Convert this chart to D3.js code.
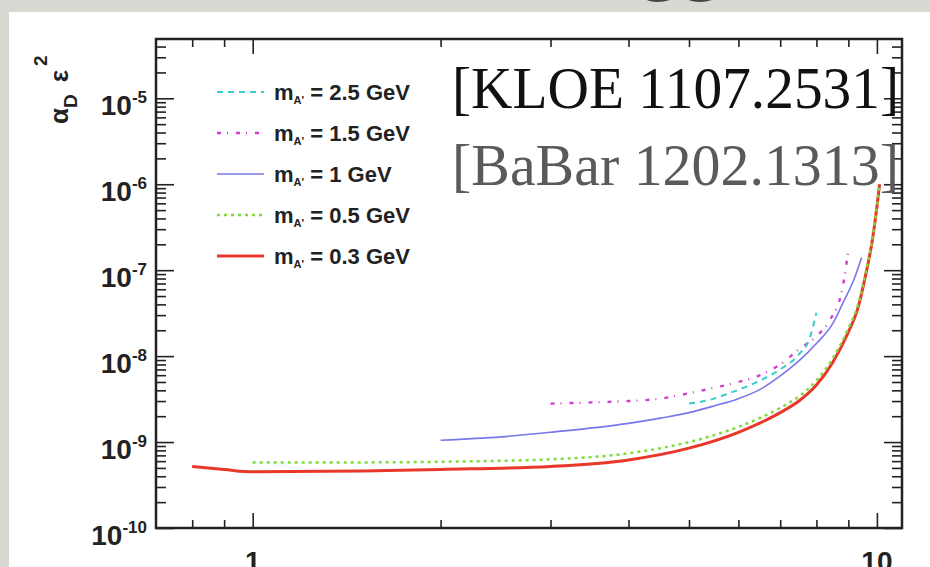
<!DOCTYPE html>
<html>
<head>
<meta charset="utf-8">
<script src="https://cdn.jsdelivr.net/npm/d3@7"></script>
<style>
  body { margin: 0; background: #d9d8d2; }
  svg { display: block; }
</style>
</head>
<body>
<svg id="chart"></svg>
<script>
// curve points: [mass, alpha_D * eps^2]
var curve25 = [[5.0, 2.8e-9], [5.4, 3.1e-9], [5.8, 3.7e-9], [6.5, 5.2e-9], [7.0, 7.0e-9],
  [7.5, 1.05e-8], [7.8, 1.6e-8], [8.0, 3.2e-8]];
var curve15 = [[3.0, 2.8e-9], [3.5, 2.9e-9], [4.0, 3.0e-9], [4.5, 3.2e-9], [5.0, 3.7e-9],
  [5.5, 4.3e-9], [6.0, 5.0e-9], [6.5, 6.0e-9], [7.0, 8.0e-9], [7.5, 1.2e-8], [8.0, 1.7e-8],
  [8.4, 2.6e-8], [8.8, 6.0e-8], [9.0, 1.7e-7]];
var curve1 = [[2.0, 1.05e-9], [2.5, 1.15e-9], [3.0, 1.3e-9], [4.0, 1.65e-9], [4.5, 1.9e-9],
  [5.0, 2.2e-9], [5.5, 2.65e-9], [6.0, 3.2e-9], [6.5, 4.1e-9], [7.0, 5.9e-9], [7.5, 8.8e-9],
  [8.0, 1.4e-8], [8.5, 2.4e-8], [8.8, 4.0e-8], [9.2, 8e-8], [9.45, 1.4e-7]];
var curve05 = [[1.0, 5.8e-10], [1.5, 5.8e-10], [2.0, 5.9e-10], [3.0, 6.3e-10], [4.0, 7.4e-10],
  [5.0, 1.0e-9], [6.0, 1.5e-9], [7.0, 2.5e-9], [7.5, 3.4e-9], [8.0, 5.2e-9], [8.5, 9.5e-9],
  [9.0, 2.1e-8], [9.3, 3.7e-8], [9.6, 9.5e-8], [9.85, 2.5e-7], [10.1, 1.0e-6]];
var curve03 = [[0.8, 5.2e-10], [0.9, 4.8e-10], [1.0, 4.5e-10], [1.5, 4.6e-10], [2.0, 4.8e-10],
  [3.0, 5.2e-10], [4.0, 6.2e-10], [5.0, 8.5e-10], [6.0, 1.3e-9], [7.0, 2.2e-9], [7.5, 3.0e-9],
  [8.0, 4.6e-9], [8.5, 8.5e-9], [9.0, 1.9e-8], [9.3, 3.4e-8], [9.6, 9e-8], [9.85, 2.4e-7],
  [10.1, 1.0e-6]];

var massLabels = ["2.5", "1.5", "1", "0.5", "0.3"];
var yMajor = [-10, -9, -8, -7, -6, -5];
var xMajor = [1, 10];

var W = 930, H = 567;
var svg = d3.select("#chart").attr("width", W).attr("height", H);

// slide title fragment peeking above the white panel
svg.append("text")
  .attr("x", 638).attr("y", -16)
  .attr("font-family", "Liberation Serif, serif")
  .attr("font-size", 84)
  .attr("fill", "#444")
  .text("gg");

svg.append("rect")
  .attr("x", 9).attr("y", 12)
  .attr("width", W - 9).attr("height", H - 12)
  .attr("fill", "#fff");

var pLeft = 156, pRight = 902, pTop = 39, pBottom = 528;

var x = d3.scaleLog().domain([0.7, 10.97]).range([pLeft, pRight]);
var y = d3.scaleLog().domain([1e-10, Math.pow(10, -4.31)]).range([pBottom, pTop]);

// minor ticks 2..9 in each decade
var yMinor = [];
for (var e = -10; e <= -5; e++) {
  for (var k = 2; k <= 9; k++) {
    var v = k * Math.pow(10, e);
    if (v < y.domain()[1]) yMinor.push(v);
  }
}
var xMinor = [0.8, 0.9, 2, 3, 4, 5, 6, 7, 8, 9];

function tickAxis(axis, vals, size, tx, ty) {
  var g = svg.append("g")
    .attr("transform", "translate(" + tx + "," + ty + ")")
    .call(axis.tickValues(vals).tickSize(size).tickFormat(""));
  g.select(".domain").remove();
  g.selectAll("line").attr("stroke", "#222").attr("stroke-width", 1.6);
}

var yMajorVals = yMajor.map(function (p) { return Math.pow(10, p); });

tickAxis(d3.axisLeft(y), yMajorVals, -18, pLeft, 0);
tickAxis(d3.axisLeft(y), yMinor, -10, pLeft, 0);
tickAxis(d3.axisRight(y), yMajorVals, -18, pRight, 0);
tickAxis(d3.axisRight(y), yMinor, -10, pRight, 0);
tickAxis(d3.axisBottom(x), xMajor, -15, 0, pBottom);
tickAxis(d3.axisBottom(x), xMinor, -8, 0, pBottom);
tickAxis(d3.axisTop(x), xMajor, -15, 0, pTop);
tickAxis(d3.axisTop(x), xMinor, -8, 0, pTop);

// y tick labels 10^n
var yl = svg.append("g")
  .attr("font-family", "Liberation Sans, Arial, sans-serif")
  .attr("font-weight", "bold")
  .attr("fill", "#222");
yMajor.forEach(function (p) {
  var t = yl.append("text")
    .attr("x", 147)
    .attr("y", y(Math.pow(10, p)) + 17)
    .attr("text-anchor", "end")
    .attr("font-size", 28);
  t.append("tspan").text("10");
  t.append("tspan").attr("dy", -12).attr("font-size", 17).text("-" + (-p));
});

// x tick labels (cut off by the picture edge)
xMajor.forEach(function (v) {
  yl.append("text")
    .attr("x", x(v))
    .attr("y", 571)
    .attr("text-anchor", "middle")
    .attr("font-size", 28)
    .text(v);
});

// y axis title
var yt = svg.append("text")
  .attr("transform", "translate(68,124) rotate(-90)")
  .attr("font-family", "Liberation Sans, Arial, sans-serif")
  .attr("font-weight", "bold")
  .attr("font-size", 26)
  .attr("fill", "#222");
yt.append("tspan").text("\u03b1");
yt.append("tspan").attr("dy", 9).attr("font-size", 19).text("D");
yt.append("tspan").attr("dy", -9).attr("dx", 12).text("\u03b5");
yt.append("tspan").attr("dy", -21).attr("dx", 4).attr("font-size", 19).text("2");

var line = d3.line()
  .x(function (d) { return x(d[0]); })
  .y(function (d) { return y(d[1]); })
  .curve(d3.curveMonotoneX);

var styles = [
  { data: curve03, color: "#e8382a", width: 3, dash: null },
  { data: curve05, color: "#7edc3a", width: 2.5, dash: "3,4" },
  { data: curve1, color: "#7878ea", width: 1.6, dash: null },
  { data: curve15, color: "#d040d0", width: 2.4, dash: "4,6,1,8" },
  { data: curve25, color: "#38cccc", width: 2, dash: "6,5" }
];

var plot = svg.append("g");
styles.forEach(function (s) {
  plot.append("path")
    .datum(s.data)
    .attr("d", line)
    .attr("fill", "none")
    .attr("stroke", s.color)
    .attr("stroke-width", s.width)
    .attr("stroke-dasharray", s.dash);
});

// frame
svg.append("rect")
  .attr("x", pLeft).attr("y", pTop)
  .attr("width", pRight - pLeft).attr("height", pBottom - pTop)
  .attr("fill", "none")
  .attr("stroke", "#222")
  .attr("stroke-width", 2.5);

// legend, same order as the picture (2.5 at top)
var legendStyles = [styles[4], styles[3], styles[2], styles[1], styles[0]];
var legend = svg.append("g")
  .attr("font-family", "Liberation Sans, Arial, sans-serif")
  .attr("font-weight", "bold")
  .attr("fill", "#222");
massLabels.forEach(function (m, i) {
  var ly = 92 + i * 41;
  var s = legendStyles[i];
  legend.append("line")
    .attr("x1", 217).attr("x2", 264)
    .attr("y1", ly).attr("y2", ly)
    .attr("stroke", s.color)
    .attr("stroke-width", s.width)
    .attr("stroke-dasharray", s.dash);
  var t = legend.append("text")
    .attr("x", 274).attr("y", ly + 8)
    .attr("font-size", 22);
  t.append("tspan").text("m");
  t.append("tspan").attr("dy", 4).attr("font-size", 11).text("A'");
  t.append("tspan").attr("dy", -4).text(" = " + m + " GeV");
});

// overlaid references
svg.append("text")
  .attr("x", 452).attr("y", 108)
  .attr("font-family", "Liberation Serif, serif")
  .attr("font-size", 60)
  .attr("fill", "#111")
  .attr("textLength", 447)
  .attr("lengthAdjust", "spacingAndGlyphs")
  .text("[KLOE 1107.2531]");
svg.append("text")
  .attr("x", 452).attr("y", 185)
  .attr("font-family", "Liberation Serif, serif")
  .attr("font-size", 60)
  .attr("fill", "#5a5a5a")
  .attr("textLength", 447)
  .attr("lengthAdjust", "spacingAndGlyphs")
  .text("[BaBar 1202.1313]");
</script>
</body>
</html>
